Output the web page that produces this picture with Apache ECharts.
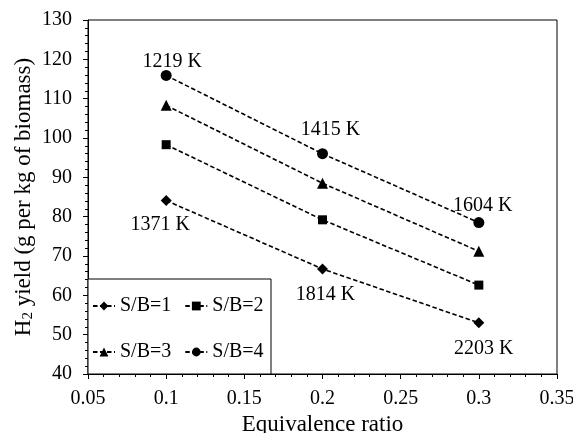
<!DOCTYPE html>
<html>
<head>
<meta charset="utf-8">
<script src="https://cdn.jsdelivr.net/npm/echarts@6/dist/echarts.min.js"></script>
<style>html,body{margin:0;padding:0;background:#fff}#c{width:573px;height:433px}</style>
</head>
<body>
<div id="c"></div>
<script>
var xValues = [0.1, 0.2, 0.3];
var sb1 = [84.1, 66.7, 53.0];
var sb2 = [98.3, 79.2, 62.6];
var sb3 = [108.3, 88.5, 71.2];
var sb4 = [115.9, 96.0, 78.5];
var tempTop = ['1219 K', '1415 K', '1604 K'];
var tempBottom = ['1371 K', '1814 K', '2203 K'];
var seriesNames = ['S/B=1', 'S/B=2', 'S/B=3', 'S/B=4'];

var FONT = 'Liberation Serif';
var topOffsets = [[6, 6], [8, -4], [4, 3]];
var bottomOffsets = [[-6, 5], [3, 6], [5, 6]];

function pts(vals, labels, pos, offs) {
  return vals.map(function (v, i) {
    var d = { value: [xValues[i], v] };
    if (labels) {
      d.label = { show: true, formatter: labels[i], position: pos, offset: offs[i],
        distance: 4, color: '#000', fontFamily: FONT, fontSize: 20 };
    }
    return d;
  });
}

function mk(name, data, symbol, size) {
  return {
    name: name, type: 'line', data: data, symbol: symbol, symbolSize: size,
    itemStyle: { color: '#000' },
    lineStyle: { color: '#000', width: 1.6, type: [4.5, 2.5] },
    label: { show: false },
    emphasis: { disabled: true },
    animation: false, z: 2
  };
}

var legendText = { fontFamily: FONT, fontSize: 20, color: '#000' };

var option = {
  animation: false,
  grid: { left: 88, right: 16, top: 20, bottom: 59, containLabel: false, outerBoundsMode: 'none',
    show: true, borderColor: '#000', borderWidth: 1, backgroundColor: 'transparent' },
  xAxis: {
    type: 'value', min: 0.05, max: 0.35, interval: 0.05,
    name: 'Equivalence ratio', nameLocation: 'middle', nameGap: 37,
    nameTextStyle: { fontFamily: FONT, fontSize: 23, color: '#000' },
    axisLine: { show: true, lineStyle: { color: '#000', width: 1 } },
    axisTick: { show: true, inside: false, length: 5, lineStyle: { color: '#000' } },
    minorTick: { show: true, splitNumber: 5, length: 3, lineStyle: { color: '#000' } },
    splitLine: { show: false },
    axisLabel: { color: '#000', fontFamily: FONT, fontSize: 20, margin: 15,
      formatter: function (v) { return String(Math.round(v * 100) / 100); } }
  },
  yAxis: {
    type: 'value', min: 40, max: 130, interval: 10,
    name: '{m|H}{s|2}{m| yield (g per kg of biomass)}', nameLocation: 'middle', nameGap: 52, nameRotate: 90,
    nameMoveOverlap: false,
    nameTextStyle: { fontFamily: FONT, fontSize: 23, color: '#000',
      rich: { m: { fontFamily: FONT, fontSize: 23, color: '#000' },
              s: { fontFamily: FONT, fontSize: 15, color: '#000', verticalAlign: 'bottom', padding: [9, 0, 0, 0] } } },
    axisLine: { show: true, lineStyle: { color: '#000', width: 1 } },
    axisTick: { show: true, inside: false, length: 5, lineStyle: { color: '#000' } },
    minorTick: { show: true, splitNumber: 5, length: 3, lineStyle: { color: '#000' } },
    splitLine: { show: false },
    axisLabel: { color: '#000', fontFamily: FONT, fontSize: 20, margin: 16 }
  },
  graphic: [{
    type: 'rect', z: 3, silent: true,
    shape: { x: 88, y: 279, width: 183, height: 95 },
    style: { fill: '#fff', stroke: '#000', lineWidth: 1 }
  }],
  legend: [
    { data: [seriesNames[0], seriesNames[1]], left: 92, top: 296, itemWidth: 22, itemHeight: 11, itemGap: 13,
      textStyle: legendText, z: 5, selectedMode: false, padding: 0 },
    { data: [seriesNames[2], seriesNames[3]], left: 92, top: 342, itemWidth: 22, itemHeight: 11, itemGap: 13,
      textStyle: legendText, z: 5, selectedMode: false, padding: 0 }
  ],
  series: [
    mk(seriesNames[0], pts(sb1, tempBottom, 'bottom', bottomOffsets), 'diamond', 11),
    mk(seriesNames[1], pts(sb2), 'rect', 9),
    mk(seriesNames[2], pts(sb3), 'triangle', 11),
    mk(seriesNames[3], pts(sb4, tempTop, 'top', topOffsets), 'circle', 11)
  ]
};

var chart = echarts.init(document.getElementById('c'), null, { renderer: 'canvas' });
chart.setOption(option);
</script>
</body>
</html>
